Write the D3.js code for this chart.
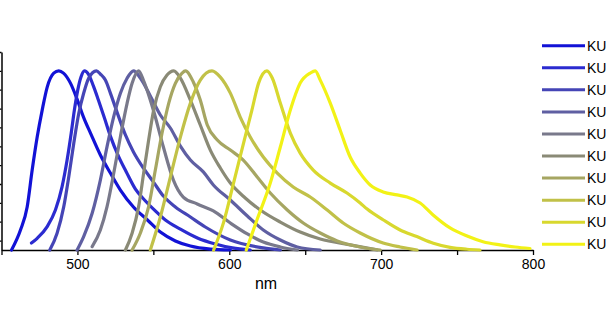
<!DOCTYPE html>
<html>
<head>
<meta charset="utf-8">
<script src="https://cdn.jsdelivr.net/npm/d3@7"></script>
<style>
  html, body { margin: 0; padding: 0; background: #fff; overflow: hidden; }
  svg { display: block; font-family: "Liberation Sans", Arial, sans-serif; }
</style>
</head>
<body>
<svg id="chart" width="606" height="330"></svg>
<script>
// ---------- data ----------
const seriesNames = ["KU", "KU", "KU", "KU", "KU", "KU", "KU", "KU", "KU", "KU"];
const seriesColors = ["#1212d6", "#2b2bd0", "#4545b6", "#5f5fa2", "#79798b", "#8a8a76", "#a6a662", "#c1c148", "#d8d82e", "#f2f216"];

const s1 = [[456.6,0.05],[462.5,0.156],[466.9,0.278],[470.2,0.474],[473.5,0.649],[476.8,0.792],[480.1,0.914],[484.4,0.988],[487.7,1.0],[490.8,0.988],[495.4,0.935],[500.0,0.845],[504.0,0.755],[508.6,0.670],[515.1,0.554],[521.7,0.458],[528.3,0.368],[536.9,0.278],[546.1,0.209],[554.6,0.145],[564.5,0.098],[574.4,0.071],[587.5,0.055],[600.7,0.05]];
const s2 = [[469.7,0.087],[473.5,0.112],[480.1,0.174],[485.5,0.262],[489.9,0.386],[493.2,0.527],[495.9,0.669],[498.0,0.792],[500.2,0.898],[502.4,0.969],[504.6,1.0],[507.2,0.983],[510.5,0.920],[513.8,0.845],[517.8,0.750],[521.7,0.654],[527.0,0.548],[532.2,0.464],[538.2,0.373],[544.8,0.310],[551.3,0.257],[557.9,0.209],[567.8,0.161],[579.0,0.114],[590.8,0.082],[602.0,0.061],[613.8,0.05]];
const s3 = [[481.8,0.05],[486.6,0.139],[491.0,0.280],[494.3,0.439],[497.6,0.616],[500.9,0.775],[504.1,0.881],[507.4,0.961],[512.5,1.0],[515.1,0.983],[518.4,0.951],[521.7,0.882],[526.3,0.776],[531.6,0.660],[536.9,0.570],[543.4,0.485],[550.0,0.411],[556.6,0.336],[564.5,0.278],[574.4,0.225],[584.2,0.172],[600.7,0.103],[622.4,0.061],[633.6,0.05]];
const s4 = [[499.8,0.05],[504.1,0.121],[509.7,0.245],[515.1,0.421],[519.5,0.598],[523.9,0.757],[528.3,0.881],[532.7,0.961],[537.0,1.0],[541.4,0.962],[548.0,0.867],[554.6,0.766],[561.2,0.697],[567.8,0.601],[574.4,0.527],[582.9,0.464],[589.5,0.395],[600.7,0.315],[611.9,0.230],[622.4,0.156],[633.6,0.103],[644.8,0.066],[659.9,0.05]];
const s5 = [[509.7,0.068],[515.1,0.156],[519.5,0.280],[523.9,0.457],[528.3,0.651],[532.7,0.828],[536.0,0.934],[540.3,1.0],[543.4,0.951],[550.0,0.792],[556.6,0.596],[563.2,0.421],[569.7,0.331],[578.9,0.294],[589.5,0.257],[600.7,0.193],[611.9,0.135],[622.4,0.092],[633.6,0.066],[644.8,0.05]];
const s6 = [[531.6,0.05],[536.0,0.139],[540.3,0.280],[543.6,0.457],[546.9,0.633],[550.2,0.792],[554.6,0.916],[559.0,0.978],[563.4,1.0],[567.8,0.962],[574.4,0.845],[580.9,0.713],[587.5,0.580],[594.1,0.485],[600.7,0.405],[610.5,0.326],[620.4,0.262],[633.6,0.198],[646.7,0.145],[659.9,0.108],[679.6,0.077],[697.4,0.05]];
const s7 = [[536.0,0.05],[541.4,0.139],[546.9,0.280],[551.3,0.474],[555.7,0.669],[560.1,0.828],[564.5,0.934],[568.9,0.988],[571.1,1.0],[576.3,0.941],[580.9,0.845],[585.5,0.713],[592.1,0.633],[600.7,0.580],[609.2,0.527],[618.4,0.437],[627.0,0.352],[638.2,0.262],[648.7,0.193],[659.9,0.140],[671.1,0.098],[686.2,0.066],[699.4,0.05]];
const s8 = [[548.0,0.05],[554.6,0.225],[561.2,0.437],[567.8,0.649],[574.4,0.829],[580.9,0.951],[588.6,1.0],[594.1,0.967],[600.7,0.882],[607.2,0.755],[613.8,0.649],[622.4,0.543],[631.6,0.458],[642.1,0.384],[653.3,0.331],[664.5,0.262],[675.0,0.193],[686.2,0.140],[701.3,0.087],[712.5,0.066],[723.7,0.05]];
const s9 = [[589.7,0.05],[596.3,0.198],[602.8,0.405],[609.4,0.617],[614.9,0.792],[619.3,0.935],[624.8,1.0],[628.3,0.962],[633.6,0.829],[640.2,0.670],[646.7,0.564],[655.3,0.474],[666.5,0.405],[677.5,0.352],[686.2,0.299],[690.8,0.267],[701.5,0.209],[712.5,0.156],[723.5,0.121],[734.4,0.086],[745.4,0.064],[756.4,0.054],[765.1,0.05]];
const s10 = [[611.2,0.05],[618.2,0.209],[627.0,0.405],[633.6,0.596],[640.2,0.792],[646.7,0.935],[653.3,0.988],[656.6,1.0],[659.9,0.951],[666.5,0.829],[673.0,0.686],[679.6,0.543],[686.2,0.458],[692.8,0.395],[701.3,0.358],[710.5,0.342],[717.1,0.331],[725.7,0.299],[734.2,0.236],[745.4,0.167],[756.6,0.124],[767.1,0.094],[778.3,0.077],[788.2,0.066],[798.0,0.058]];
const allSeries = [s1, s2, s3, s4, s5, s6, s7, s8, s9, s10];

const xMajorTicks = [500, 600, 700, 800];
const xMinorTicks = [450, 550, 650, 750];
const yTicks = [0.1, 0.2, 0.3, 0.4, 0.5, 0.6, 0.7, 0.8, 0.9, 1.0, 1.1];
const xTitle = "nm";

// ---------- layout ----------
const svg = d3.select("#chart");
const x = d3.scaleLinear().domain([450, 800]).range([1.5, 533]);
const y = d3.scaleLinear().domain([0.05, 1.1]).range([250, 52]);

// y axis: only tick marks are inside the visible area in the reference
const yAxis = svg.append("g")
  .attr("transform", `translate(${x(450)},0)`)
  .call(d3.axisLeft(y).tickValues(yTicks).tickSize(4).tickSizeOuter(0).tickFormat(""));

// x axis
const xAxisG = svg.append("g").attr("transform", "translate(0,250)");
xAxisG.call(d3.axisBottom(x).tickValues(xMajorTicks).tickSize(5).tickSizeOuter(0).tickPadding(4));
xAxisG.selectAll("text").attr("font-size", 14).attr("fill", "#000").attr("font-family", "Liberation Sans, Arial, sans-serif");
const xMinorG = svg.append("g").attr("transform", "translate(0,250)");
xMinorG.call(d3.axisBottom(x).tickValues(xMinorTicks).tickSize(5).tickSizeOuter(0).tickFormat(""));
xMinorG.select(".domain").remove();

[yAxis, xAxisG, xMinorG].forEach(g => {
  g.selectAll("line").attr("stroke", "#000").attr("stroke-width", 1.3);
  g.selectAll(".domain").attr("stroke", "#000").attr("stroke-width", 1.5);
});

svg.append("text")
  .attr("x", 266).attr("y", 289)
  .attr("text-anchor", "middle")
  .attr("font-size", 16)
  .attr("fill", "#000")
  .text(xTitle);

// lines
const line = d3.line()
  .x(d => x(d[0]))
  .y(d => y(d[1]))
  .curve(d3.curveMonotoneX);

allSeries.forEach((s, i) => {
  svg.append("path")
    .datum(s)
    .attr("d", line)
    .attr("fill", "none")
    .attr("stroke", seriesColors[i])
    .attr("stroke-width", 3.2)
    .attr("stroke-linejoin", "round")
    .attr("stroke-linecap", "round");
});

// legend
const legend = svg.append("g");
seriesNames.forEach((name, i) => {
  const ly = 45.7 + i * 22.07;
  legend.append("line")
    .attr("x1", 542).attr("x2", 585)
    .attr("y1", ly).attr("y2", ly)
    .attr("stroke", seriesColors[i])
    .attr("stroke-width", 3);
  legend.append("text")
    .attr("x", 587).attr("y", ly)
    .attr("dy", "0.36em")
    .attr("font-size", 14)
    .attr("fill", "#000")
    .text(name);
});
</script>
</body>
</html>
